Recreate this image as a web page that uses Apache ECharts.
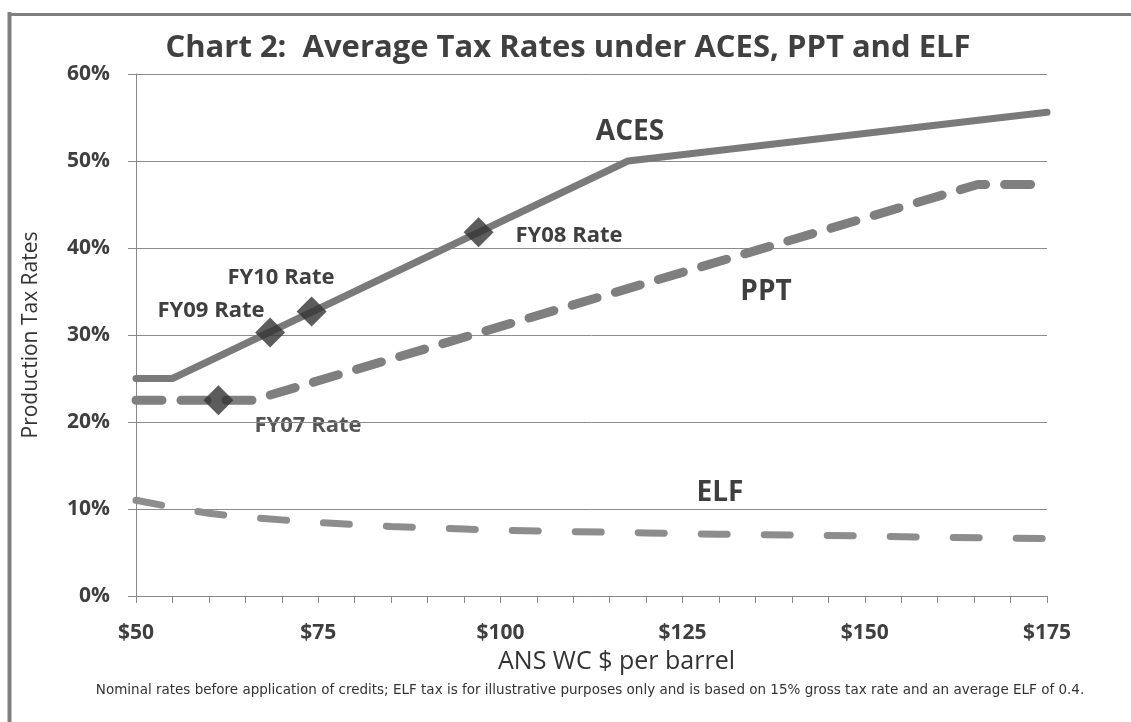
<!DOCTYPE html>
<html>
<head>
<meta charset="utf-8">
<script src="https://cdn.jsdelivr.net/npm/echarts@6/dist/echarts.min.js"></script>
<style>
  html, body { margin: 0; padding: 0; background: #fff; }
  #main { width: 1131px; height: 722px; }
</style>
</head>
<body>
<div id="main"></div>
<script>
// ANS WC price ($ per barrel) and average tax rate (%)
var acesPrice = [50, 55, 117.5, 175];
var acesRate  = [25, 25, 50, 55.6];

var pptPrice = [50, 66, 165.5, 175];
var pptRate  = [22.5, 22.5, 47.3, 47.3];

var elfPrice = [50, 55, 60, 65, 70, 75, 80, 85, 90, 95, 100, 110, 120, 130, 140, 150, 160, 170, 175];
var elfRate  = [11.0, 10.2, 9.5, 9.05, 8.75, 8.45, 8.2, 8.0, 7.85, 7.7, 7.55, 7.4, 7.25, 7.1, 7.0, 6.9, 6.75, 6.65, 6.6];

// fiscal year rate markers
var fyNames = ['FY07 Rate', 'FY08 Rate', 'FY09 Rate', 'FY10 Rate'];
var fyPrice = [61.3, 97, 68.4, 74.1];
var fyRate  = [22.5, 41.8, 30.3, 32.7];

var yTicks = [0, 10, 20, 30, 40, 50, 60];

function pairs(xs, ys) {
    var out = [];
    for (var i = 0; i < xs.length; i++) out.push([xs[i], ys[i]]);
    return out;
}

var font = '"Open Sans", "Liberation Sans", sans-serif';
var txt = '#3f3f3f';

var myChart = echarts.init(document.getElementById('main'));
var option = {
    backgroundColor: '#fff',
    animation: false,
    grid: { left: 136, right: 84, top: 74, bottom: 126 },
    xAxis: {
        type: 'value',
        min: 50, max: 175, interval: 25,
        name: 'ANS WC $ per barrel',
        nameLocation: 'middle',
        nameGap: 52,
        nameTextStyle: { fontFamily: font, fontSize: 25, color: '#333', padding: [0, 0, 0, 50] },
        axisLine: { lineStyle: { color: '#888', width: 1 } },
        axisTick: { show: true, length: 7, lineStyle: { color: '#888' } },
        minorTick: { show: true, splitNumber: 5, length: 7, lineStyle: { color: '#888' } },
        axisLabel: {
            margin: 27,
            fontFamily: font, fontSize: 21, fontWeight: 'bold', color: txt,
            formatter: function (v) { return '$' + v; }
        },
        splitLine: { show: false }
    },
    yAxis: {
        type: 'value',
        min: yTicks[0], max: yTicks[yTicks.length - 1], interval: 10,
        name: 'Production Tax Rates',
        nameLocation: 'middle',
        nameGap: 94,
        nameTextStyle: { fontFamily: font, fontSize: 21, color: '#333' },
        axisLine: { show: true, lineStyle: { color: '#888', width: 1 } },
        axisTick: { show: true, length: 8, lineStyle: { color: '#888' } },
        axisLabel: {
            margin: 26,
            fontFamily: font, fontSize: 21, fontWeight: 'bold', color: txt,
            formatter: '{value}%'
        },
        splitLine: { show: true, lineStyle: { color: '#8c8c8c', width: 1 } }
    },
    series: [
        {
            name: 'ELF', type: 'line', symbol: 'none',
            lineStyle: { color: '#8d8d8d', width: 7, type: [26, 37], cap: 'round' },
            data: pairs(elfPrice, elfRate), z: 3
        },
        {
            name: 'PPT', type: 'line', symbol: 'none',
            lineStyle: { color: '#7f7f7f', width: 9, type: [26, 19], cap: 'round', join: 'round' },
            data: pairs(pptPrice, pptRate), z: 3
        },
        {
            name: 'ACES', type: 'line', symbol: 'none',
            lineStyle: { color: '#7a7a7a', width: 7, cap: 'round', join: 'round' },
            data: pairs(acesPrice, acesRate), z: 3
        },
        {
            name: 'FY', type: 'scatter', symbol: 'diamond', symbolSize: 30,
            itemStyle: { color: '#333' },
            data: pairs(fyPrice, fyRate), z: 5
        }
    ],
    graphic: [
        { type: 'line', shape: { x1: 9.5, y1: 12, x2: 9.5, y2: 722 }, style: { stroke: '#7f7f7f', lineWidth: 4 } },
        { type: 'line', shape: { x1: 8, y1: 14.5, x2: 1131, y2: 14.5 }, style: { stroke: '#7f7f7f', lineWidth: 3 } },
        { type: 'text', x: 568, y: 48, style: { text: 'Chart 2:  Average Tax Rates under ACES, PPT and ELF', font: 'bold 31px ' + font, fill: '#404040', textAlign: 'center', textVerticalAlign: 'middle' } },
        { type: 'text', x: 630, y: 132, style: { text: 'ACES', font: 'bold 28px ' + font, fill: txt, textAlign: 'center', textVerticalAlign: 'middle' } },
        { type: 'text', x: 766, y: 292, style: { text: 'PPT', font: 'bold 28px ' + font, fill: txt, textAlign: 'center', textVerticalAlign: 'middle' } },
        { type: 'text', x: 720, y: 493, style: { text: 'ELF', font: 'bold 28px ' + font, fill: txt, textAlign: 'center', textVerticalAlign: 'middle' } },
        { type: 'text', x: 569, y: 236, style: { text: fyNames[1], font: 'bold 22px ' + font, fill: txt, textAlign: 'center', textVerticalAlign: 'middle' } },
        { type: 'text', x: 281, y: 278, style: { text: fyNames[3], font: 'bold 22px ' + font, fill: txt, textAlign: 'center', textVerticalAlign: 'middle' } },
        { type: 'text', x: 211, y: 311, style: { text: fyNames[2], font: 'bold 22px ' + font, fill: txt, textAlign: 'center', textVerticalAlign: 'middle' } },
        { type: 'text', x: 308, y: 426, style: { text: fyNames[0], font: 'bold 22px ' + font, fill: '#555', textAlign: 'center', textVerticalAlign: 'middle' } },
        { type: 'text', x: 590, y: 690, style: { text: 'Nominal rates before application of credits; ELF tax is for illustrative purposes only and is based on 15% gross tax rate and an average ELF of 0.4.', font: '13.5px "DejaVu Sans", sans-serif', fill: '#333', textAlign: 'center', textVerticalAlign: 'middle' } }
    ]
};
myChart.setOption(option);
</script>
</body>
</html>
